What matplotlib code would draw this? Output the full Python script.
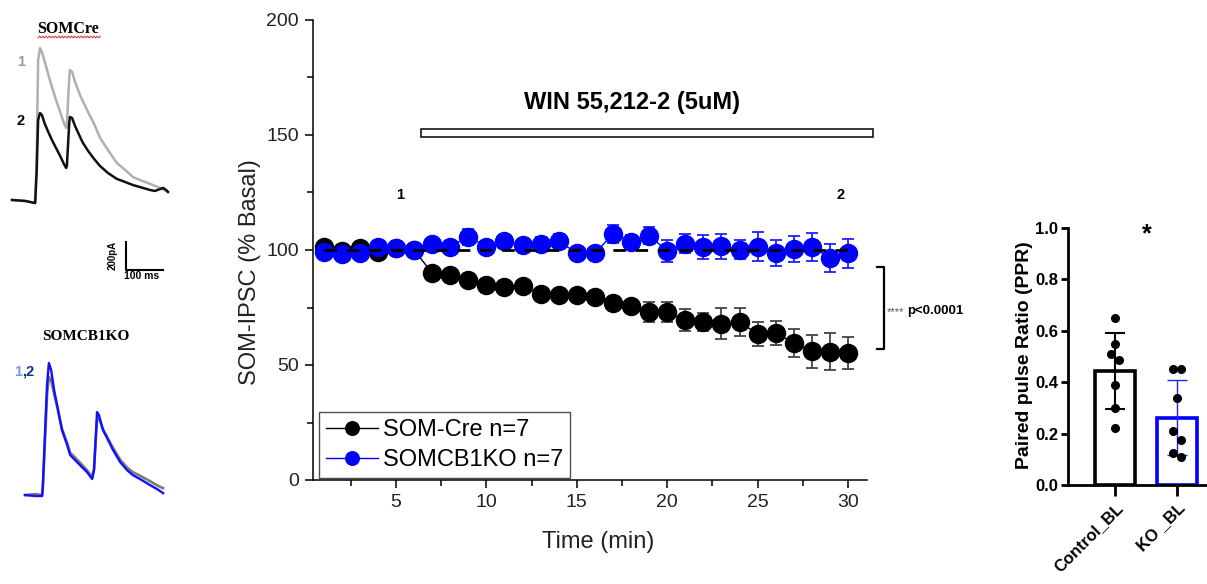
import numpy as np
import matplotlib
matplotlib.use("Agg")
import matplotlib.pyplot as plt
from matplotlib.patches import Rectangle
from matplotlib.ticker import MultipleLocator, FormatStrFormatter

# ---------------- data ----------------
time_min = list(range(1, 31))
somcre_mean = [101.5, 99.5, 101, 99, 101, 100, 90, 89, 87, 85, 84, 84.5, 81, 80.5, 80.5,
               79.5, 77, 75.5, 73, 73, 69.5, 68.7, 68, 68.7, 63.5, 64, 59.5, 56, 55.7, 55.2]
somcre_sem = [1.5, 1.5, 1.5, 2, 1.5, 1.5, 1.5, 1.5, 1.5, 1.5, 1.5, 1.5, 1.5, 1.5, 1.5,
              2, 2, 2, 4.3, 4.3, 4.7, 3.8, 6.7, 6.2, 5.1, 5.1, 6.1, 7.2, 8, 7.1]
somcb1ko_mean = [99, 98.4, 98.5, 101.5, 100.8, 100.2, 102.6, 101.5, 105.8, 101.5, 103.8, 102.2,
                 102.6, 104, 98.5, 98.5, 107, 103.6, 106.3, 99.6, 102.8, 101.4, 101.6, 100.2,
                 101.4, 98.6, 100.6, 101.4, 96.5, 98.6]
somcb1ko_sem = [1.5, 1.5, 2.5, 2.5, 2, 1.5, 2, 2, 3.5, 2, 2.5, 2.5, 3, 3, 2, 3, 3.8, 3, 3.8,
                4.6, 4.2, 5.3, 5.3, 4.2, 6.3, 5.6, 5.6, 6, 5.9, 6.3]
series_labels = ["SOM-Cre n=7", "SOMCB1KO n=7"]
baseline_level = 100

ppr_groups = ["Control_BL", "KO _BL"]
ppr_mean = [0.445, 0.262]
ppr_sd = [0.148, 0.147]
ppr_control_pts = [0.65, 0.55, 0.51, 0.485, 0.39, 0.30, 0.22]
ppr_ko_pts = [0.45, 0.45, 0.34, 0.21, 0.175, 0.125, 0.11]
ctrl_jitter = [0, 0, -0.07, 0.07, 0, 0, 0]
ko_jitter = [-0.065, 0.065, 0, -0.065, 0.065, -0.065, 0.065]

# example traces (ms, pA)
cre2_ms = [0, 35, 62, 66, 70, 75, 80, 88, 96, 107, 118, 129, 139, 145, 147, 153, 155, 161, 169,
           180, 190, 204, 220, 236, 257, 281, 303, 324, 351, 370, 383, 397, 405, 413, 418]
cre2_pa = [0, -7, -22, 200, 578, 628, 614, 549, 498, 433, 375, 318, 260, 231, 245, 542, 599, 592,
           534, 469, 412, 354, 296, 245, 195, 152, 130, 108, 87, 72, 65, 79, 87, 72, 58]
cre1_ms = [0, 35, 62, 66, 70, 75, 80, 88, 96, 107, 118, 129, 139, 145, 147, 153, 155, 161, 169,
           182, 201, 220, 236, 257, 281, 303, 324, 343, 370, 397, 418]
cre1_pa = [0, -7, -22, 300, 1011, 1097, 1069, 996, 917, 816, 722, 635, 556, 520, 542, 866, 939,
           924, 852, 758, 650, 549, 448, 361, 267, 217, 166, 144, 116, 87, 58]
ko_ms = [0, 27, 46, 48, 59, 64, 70, 78, 86, 99, 113, 121, 129, 147, 166, 180, 185, 193, 198, 209,
         220, 236, 255, 273, 289, 308, 335, 354, 370]
ko2_pa = [0, -7, -7, 79, 794, 953, 903, 758, 650, 469, 361, 289, 267, 217, 166, 116, 181, 599, 578,
          469, 412, 325, 238, 181, 144, 116, 72, 43, 14]
ko1_pa = [0, 7, 0, 60, 720, 852, 830, 730, 640, 480, 375, 305, 285, 235, 180, 130, 190, 540, 556,
          475, 420, 340, 255, 200, 165, 140, 100, 70, 50]

# ---------------- style ----------------
plt.rcParams['font.family'] = ['Liberation Sans', 'DejaVu Sans']

W, H = 1207, 584
fig = plt.figure(figsize=(W / 100, H / 100), dpi=100)


def rect(l, t, r, b):
    return [l / W, 1 - b / H, (r - l) / W, (b - t) / H]


# ---------------- main time course ----------------
ax = fig.add_axes(rect(313, 20, 867, 480))
ax.errorbar(time_min, somcre_mean, yerr=somcre_sem, fmt='none', ecolor='#444444',
            elinewidth=1.3, capsize=4.5, capthick=1.3, zorder=2)
ax.plot(time_min, somcre_mean, '-o', color='black', lw=1, ms=13, label=series_labels[0], zorder=3)
ax.errorbar(time_min, somcb1ko_mean, yerr=somcb1ko_sem, fmt='none', ecolor='#2020ff',
            elinewidth=1.3, capsize=4.5, capthick=1.3, zorder=4)
ax.plot(time_min, somcb1ko_mean, '-o', color='#0000ff', lw=1, ms=13, label=series_labels[1],
        zorder=5)
ax.plot([time_min[0], time_min[-1]], [baseline_level, baseline_level], '--', color='black',
        lw=2, dashes=(4.5, 3.5), zorder=6)

ax.set_xlim(0.41, 31.05)
ax.set_ylim(0, 200)
ax.xaxis.set_minor_locator(MultipleLocator(2.5))
ax.yaxis.set_major_locator(MultipleLocator(50))
ax.yaxis.set_minor_locator(MultipleLocator(25))
ax.set_xticks([5, 10, 15, 20, 25, 30])
for s in ['top', 'right']:
    ax.spines[s].set_visible(False)
for s in ['left', 'bottom']:
    ax.spines[s].set_linewidth(1.1)
ax.tick_params(which='major', length=6, width=1.1, labelsize=14, colors='black',
               labelcolor='#222222', pad=4)
ax.tick_params(which='minor', length=4, width=1.1)
ax.set_ylabel('SOM-IPSC (% Basal)', fontsize=17, color='#222222')
ax.set_xlabel('Time (min)', fontsize=17, color='#222222')
ax.yaxis.set_label_coords(-0.094, 0.452)
ax.xaxis.set_label_coords(0.514, -0.11)
leg = ax.legend(loc='lower left', bbox_to_anchor=(0.011, 0.004), fontsize=17, frameon=True,
                fancybox=False, edgecolor='#222222', handlelength=2.2, borderpad=0.3,
                labelspacing=0.35, handletextpad=0.2, borderaxespad=0, markerscale=0.75)
leg.get_frame().set_linewidth(1.0)

# ---------------- PPR bar chart ----------------
axb = fig.add_axes(rect(1068, 228, 1207, 485))
xb = np.arange(len(ppr_groups))
axb.bar(xb, ppr_mean, width=0.645, facecolor='white', edgecolor=['black', '#0000ff'],
        linewidth=2.6, zorder=1)
axb.errorbar(xb[0], ppr_mean[0], yerr=ppr_sd[0], fmt='none', ecolor='black', elinewidth=1.5,
             capsize=7.5, capthick=1.5, zorder=2)
axb.errorbar(xb[1], ppr_mean[1], yerr=ppr_sd[1], fmt='none', ecolor='#2020ff', elinewidth=1.0,
             capsize=7.5, capthick=1.0, zorder=2)
axb.plot(xb[0] + np.array(ctrl_jitter), ppr_control_pts, 'o', color='black', ms=5.5, zorder=3)
axb.plot(xb[1] + np.array(ko_jitter), ppr_ko_pts, 'o', color='black', ms=5.5, zorder=3)
axb.set_xlim(-0.758, 1.484)
axb.set_ylim(0, 1.0)
axb.set_yticks([0, 0.2, 0.4, 0.6, 0.8, 1.0])
axb.yaxis.set_major_formatter(FormatStrFormatter('%.1f'))
axb.set_xticks(xb)
axb.set_xticklabels(ppr_groups, rotation=45, ha='right', rotation_mode='anchor',
                    fontsize=12, fontweight='bold')
for lab in axb.get_yticklabels():
    lab.set_fontweight('bold')
axb.tick_params(axis='y', length=5, width=2, labelsize=12, pad=2)
axb.tick_params(axis='x', length=8, width=2, pad=3)
for s in ['top', 'right']:
    axb.spines[s].set_visible(False)
for s in ['left', 'bottom']:
    axb.spines[s].set_linewidth(2)
axb.set_ylabel('Paired pulse Ratio (PPR)', fontsize=14, fontweight='bold')
axb.yaxis.set_label_coords(-0.25, 0.506)

# ---------------- example traces ----------------
axt1 = fig.add_axes(rect(5, 35, 175, 295))
axt1.plot(cre1_ms, cre1_pa, color='#b0b0b0', lw=1.8)
axt1.plot(cre2_ms, cre2_pa, color='#111111', lw=1.8)
axt1.plot([305, 305, 405], [-305, -505, -505], color='black', lw=1.5)
axt1.set_xlim(-18.8, 436.8)
axt1.set_ylim(-686, 1191)
axt1.axis('off')

axt2 = fig.add_axes(rect(5, 345, 175, 515))
axt2.plot(ko_ms, ko1_pa, color='#7a7a7a', lw=1.9)
axt2.plot(ko_ms, ko2_pa, color='#1010ff', lw=1.7)
axt2.set_xlim(-53.6, 402)
axt2.set_ylim(-144, 1083)
axt2.axis('off')

# ---------------- annotations (figure pixel overlay) ----------------
ov = fig.add_axes([0, 0, 1, 1])
ov.set_xlim(0, W)
ov.set_ylim(H, 0)
ov.axis('off')

ov.text(68, 29, 'SOMCre', family='Liberation Serif', fontweight='bold', fontsize=11.5,
        ha='center', va='center')
wx = np.arange(38, 101, 1.6)
ov.plot(wx, 37 + 0.9 * np.where(np.arange(len(wx)) % 2 == 0, 1, -1), color='#e03030', lw=0.7)
ov.text(21, 62, '1', color='#9a9a9a', fontweight='bold', fontsize=10.5, ha='center', va='center')
ov.text(21, 121, '2', color='black', fontweight='bold', fontsize=10.5, ha='center', va='center')
ov.text(113, 255, '200pA', rotation=90, fontweight='bold', fontsize=7, ha='center', va='center')
ov.text(142, 276, '100 ms', fontweight='bold', fontsize=7.5, ha='center', va='center')

ov.text(86, 337, 'SOMCB1KO', family='Liberation Serif', fontweight='bold', fontsize=11,
        ha='center', va='center')
ov.text(14, 372, '1', color='#7a9be0', fontweight='bold', fontsize=10.5, ha='left', va='center')
ov.text(22.5, 372, ',2', color='#1a2f8f', fontweight='bold', fontsize=10.5, ha='left', va='center')

ov.add_patch(Rectangle((421, 129), 452, 8, facecolor='white', edgecolor='black', lw=1.1))
ov.text(632, 102, 'WIN 55,212-2 (5uM)', fontweight='bold', fontsize=17,
        ha='center', va='center')
ov.text(400, 195, '1', fontweight='bold', fontsize=10.5, ha='center', va='center')
ov.text(841, 195, '2', fontweight='bold', fontsize=10.5, ha='center', va='center')

ov.plot([877, 884, 884, 877], [267, 267, 349, 349], color='black', lw=1.6)
ov.text(887, 312, '****', color='#555555', fontsize=8, ha='left', va='center')
ov.text(907, 311, 'p<0.0001', fontweight='bold', fontsize=9.5, ha='left', va='center')

ov.text(1147, 234, '*', fontweight='bold', fontsize=18, ha='center', va='center')

fig.savefig('out.png', dpi=100)
